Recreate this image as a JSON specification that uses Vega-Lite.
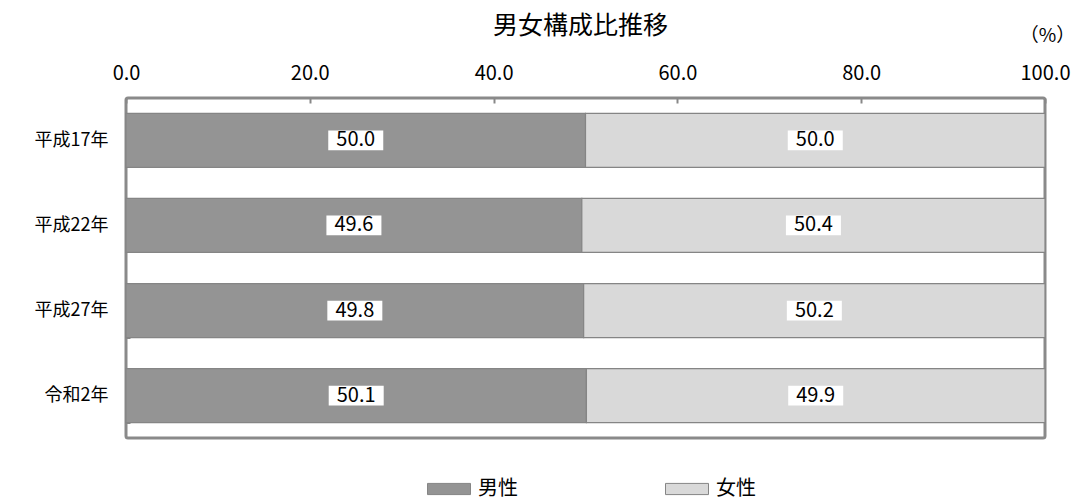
{
  "$schema": "https://vega.github.io/schema/vega-lite/v6.json",
  "width": 919,
  "height": 340,
  "autosize": {"type": "none"},
  "padding": {"left": 126, "top": 98, "right": 33, "bottom": 62},
  "background": "white",
  "title": {
    "text": "男女構成比推移",
    "font": "Noto Sans CJK JP",
    "fontSize": 25,
    "fontWeight": "normal",
    "color": "#000000",
    "anchor": "middle",
    "offset": -13,
    "dx": -5
  },
  "data": {
    "values": [
      {"year": "平成17年", "sex": "男性", "value": 50.0},
      {"year": "平成17年", "sex": "女性", "value": 50.0},
      {"year": "平成22年", "sex": "男性", "value": 49.6},
      {"year": "平成22年", "sex": "女性", "value": 50.4},
      {"year": "平成27年", "sex": "男性", "value": 49.8},
      {"year": "平成27年", "sex": "女性", "value": 50.2},
      {"year": "令和2年", "sex": "男性", "value": 50.1},
      {"year": "令和2年", "sex": "女性", "value": 49.9}
    ]
  },
  "transform": [
    {
      "stack": "value",
      "groupby": ["year"],
      "sort": [{"field": "sex", "order": "descending"}],
      "as": ["v0", "v1"]
    },
    {"calculate": "(datum.v0 + datum.v1) / 2", "as": "mid"}
  ],
  "encoding": {
    "y": {
      "field": "year",
      "type": "nominal",
      "sort": ["平成17年", "平成22年", "平成27年", "令和2年"],
      "scale": {"paddingInner": 0.365, "paddingOuter": 0.18},
      "axis": {
        "title": null,
        "domain": false,
        "ticks": true,
        "tickBand": "extent",
        "tickSize": -4,
        "tickColor": "#888888",
        "tickWidth": 1,
        "labelFont": "Noto Sans CJK JP",
        "labelFontSize": 18,
        "labelColor": "#000000",
        "labelPadding": 22
      }
    }
  },
  "layer": [
    {
      "mark": {"type": "bar", "stroke": "#858585", "strokeWidth": 1.2},
      "encoding": {
        "x": {
          "field": "v0",
          "type": "quantitative",
          "scale": {"domain": [0, 100], "nice": false},
          "axis": {
            "orient": "top",
            "values": [0, 20, 40, 60, 80, 100],
            "format": ".1f",
            "domain": false,
            "grid": false,
            "ticks": true,
            "tickSize": -5,
            "tickWidth": 2,
            "tickColor": "#888888",
            "labelFlush": false,
            "labelFont": "Noto Sans CJK JP",
            "labelFontSize": 20,
            "labelColor": "#000000",
            "labelPadding": 20,
            "title": "（%）",
            "titleFont": "Noto Sans CJK JP",
            "titleFontSize": 19,
            "titleFontWeight": "normal",
            "titleColor": "#000000",
            "titleX": 921,
            "titleY": -63,
            "titleAlign": "center",
            "titleBaseline": "middle"
          }
        },
        "x2": {"field": "v1"},
        "color": {
          "field": "sex",
          "type": "nominal",
          "scale": {"domain": ["男性", "女性"], "range": ["#949494", "#d9d9d9"]},
          "legend": {
            "title": null,
            "orient": "none",
            "legendX": 301,
            "legendY": 369,
            "direction": "horizontal",
            "columnPadding": 145,
            "labelFont": "Noto Sans CJK JP",
            "labelFontSize": 20,
            "labelColor": "#000000",
            "labelOffset": 7,
            "symbolType": "M-1,-0.26H1V0.26H-1Z",
            "symbolSize": 1849,
            "symbolStrokeColor": "#858585",
            "symbolStrokeWidth": 1,
            "symbolOpacity": 1
          }
        }
      }
    },
    {
      "mark": {
        "type": "point",
        "shape": "M-1,-0.36H1V0.36H-1Z",
        "size": 3025,
        "filled": true,
        "fill": "#ffffff",
        "opacity": 1,
        "strokeWidth": 0
      },
      "encoding": {
        "x": {"field": "mid", "type": "quantitative"}
      }
    },
    {
      "mark": {
        "type": "text",
        "font": "Noto Sans CJK JP",
        "fontSize": 20,
        "color": "#000000",
        "align": "center",
        "baseline": "middle"
      },
      "encoding": {
        "x": {"field": "mid", "type": "quantitative"},
        "text": {"field": "value", "type": "quantitative", "format": ".1f"}
      }
    }
  ],
  "config": {
    "view": {"stroke": "#8a8a8a", "strokeWidth": 3, "cornerRadius": 2}
  }
}
